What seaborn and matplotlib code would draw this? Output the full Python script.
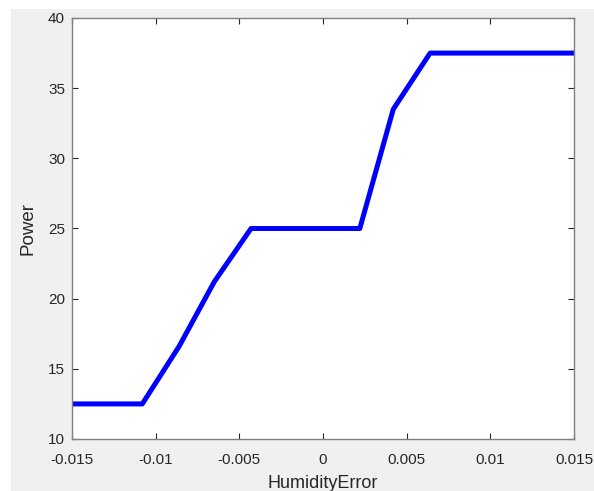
import matplotlib
matplotlib.use("Agg")
import matplotlib.pyplot as plt
from matplotlib.patches import Rectangle
import seaborn as sns
import pandas as pd

humidity_error = [-0.015, -0.0108, -0.0086, -0.0065, -0.0043, 0.0022, 0.0042, 0.0064, 0.015]
power = [12.5, 12.5, 16.6, 21.2, 25.0, 25.0, 33.5, 37.5, 37.5]
x_ticks = [-0.015, -0.01, -0.005, 0, 0.005, 0.01, 0.015]
x_tick_labels = ["-0.015", "-0.01", "-0.005", "0", "0.005", "0.01", "0.015"]
y_ticks = [10, 15, 20, 25, 30, 35, 40]

sns.set_style("ticks")
plt.rcParams['font.family'] = ['Liberation Sans', 'DejaVu Sans']

df = pd.DataFrame({"HumidityError": humidity_error, "Power": power})

fig = plt.figure(figsize=(5.94, 4.91), dpi=100)
fig.patch.set_facecolor("white")
fig.patches.append(Rectangle((11 / 594, 0), 1 - 11 / 594, (491 - 9) / 491,
                             transform=fig.transFigure, facecolor="#f0f0f0",
                             edgecolor="none", zorder=-10))
ax = fig.add_axes([72 / 594, 1 - 439 / 491, (574 - 72) / 594, (439 - 18) / 491])
ax.set_facecolor("white")

sns.lineplot(data=df, x="HumidityError", y="Power", ax=ax, color="#0000ff",
             linewidth=3.6, sort=False, estimator=None)

ax.set_xlim(-0.015, 0.015)
ax.set_ylim(10, 40)
ax.set_xticks(x_ticks)
ax.set_xticklabels(x_tick_labels)
ax.set_yticks(y_ticks)
ax.set_yticklabels([str(v) for v in y_ticks])
ax.tick_params(direction="in", top=True, right=True, length=4, width=0.8,
               colors="#262626", labelsize=11, labelcolor="#262626")
ax.tick_params(axis="x", pad=10)
ax.tick_params(axis="y", pad=5)
for s in ax.spines.values():
    s.set_visible(True)
    s.set_color("#808080")
    s.set_linewidth(1.0)
ax.set_xlabel("HumidityError", fontsize=13, color="#262626", labelpad=6)
ax.set_ylabel("Power", fontsize=13.5, color="#262626", labelpad=8)

fig.savefig("out.png", dpi=100)
